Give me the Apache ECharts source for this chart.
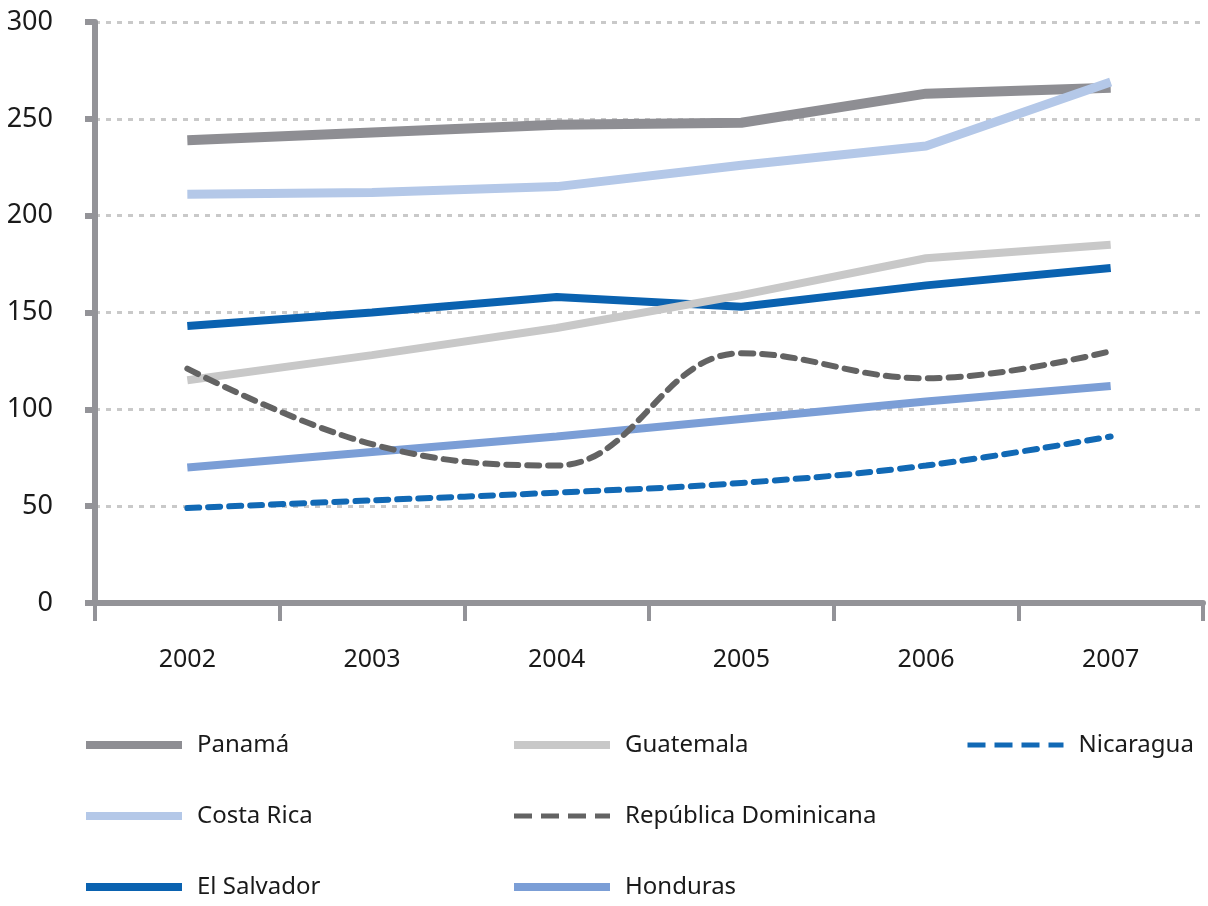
<!DOCTYPE html>
<html>
<head>
<meta charset="utf-8">
<script src="https://cdn.jsdelivr.net/npm/echarts@6/dist/echarts.min.js"></script>
<style>
  html, body { margin: 0; padding: 0; background: #fff; }
  #chart { width: 1208px; height: 906px; }
</style>
</head>
<body>
<div id="chart"></div>
<script>
// años
var years = ['2002', '2003', '2004', '2005', '2006', '2007']

// valores por país
var panama = [239, 243, 247, 248, 263, 266]
var costaRica = [211, 212, 215, 226, 236, 269]
var elSalvador = [143, 150, 158, 153, 164, 173]
var guatemala = [115, 128, 142, 159, 178, 185]
var repDominicana = [121, 82, 71, 129, 116, 130]
var honduras = [70, 78, 86, 95, 104, 112]
var nicaragua = [49, 53, 57, 62, 71, 86]

var font = '"Noto Sans", "Open Sans", sans-serif'
var axisGray = '#939398'

function serie(name, data, color, width, dashed, smooth) {
  return {
    name: name,
    type: 'line',
    data: data,
    symbol: 'none',
    smooth: smooth ? 0.4 : false,
    lineStyle: {
      color: color,
      width: width,
      type: dashed ? [12, 9] : 'solid',
      cap: dashed ? 'round' : 'butt'
    },
    itemStyle: { color: color }
  }
}

// las líneas discontinuas se ven distintas en la leyenda
var dashedNames = ['República Dominicana', 'Nicaragua']

function legendCol(left, names) {
  return {
    orient: 'vertical',
    left: left,
    top: 728,
    itemGap: 47,
    itemWidth: 96,
    itemHeight: 10,
    itemStyle: { opacity: 0 },
    lineStyle: { width: 8 },
    data: names.map(function (n) {
      if (dashedNames.indexOf(n) < 0) return n
      return { name: n, lineStyle: { width: 5, type: [18, 9], cap: 'butt' } }
    }),
    textStyle: { fontFamily: font, fontSize: 24, color: '#1a1a1a', padding: [0, 0, 0, 10] }
  }
}

var chart = echarts.init(document.getElementById('chart'))
chart.setOption({
  animation: false,
  backgroundColor: '#fff',
  grid: { left: 95, right: 5, top: 22, bottom: 303 },
  legend: [
    legendCol(77, ['Panamá', 'Costa Rica', 'El Salvador']),
    legendCol(505, ['Guatemala', 'República Dominicana', 'Honduras']),
    legendCol(960, ['Nicaragua'])
  ],
  xAxis: {
    type: 'category',
    data: years,
    boundaryGap: true,
    axisLine: { lineStyle: { color: axisGray, width: 6 } },
    axisTick: { show: true, length: 18, lineStyle: { color: axisGray, width: 4 } },
    axisLabel: { margin: 44, fontFamily: font, fontSize: 25, color: '#1a1a1a' }
  },
  yAxis: {
    type: 'value',
    min: 0,
    max: 300,
    interval: 50,
    axisLine: { show: true, lineStyle: { color: axisGray, width: 6 } },
    axisTick: { show: true, length: 10, lineStyle: { color: axisGray, width: 6 } },
    axisLabel: { margin: 42, fontFamily: font, fontSize: 27, color: '#1a1a1a' },
    splitLine: { show: true, lineStyle: { color: '#c9c9c9', width: 3, type: [5, 6] } }
  },
  series: [
    serie('Panamá', panama, '#8e8e93', 10, false, false),
    serie('Costa Rica', costaRica, '#b4c8e8', 9, false, false),
    serie('El Salvador', elSalvador, '#0a62b0', 8, false, false),
    serie('Guatemala', guatemala, '#c8c8c8', 8, false, false),
    serie('Honduras', honduras, '#7b9ed6', 8, false, false),
    serie('República Dominicana', repDominicana, '#636363', 6, true, true),
    serie('Nicaragua', nicaragua, '#1169b5', 6, true, true)
  ]
})
</script>
</body>
</html>
